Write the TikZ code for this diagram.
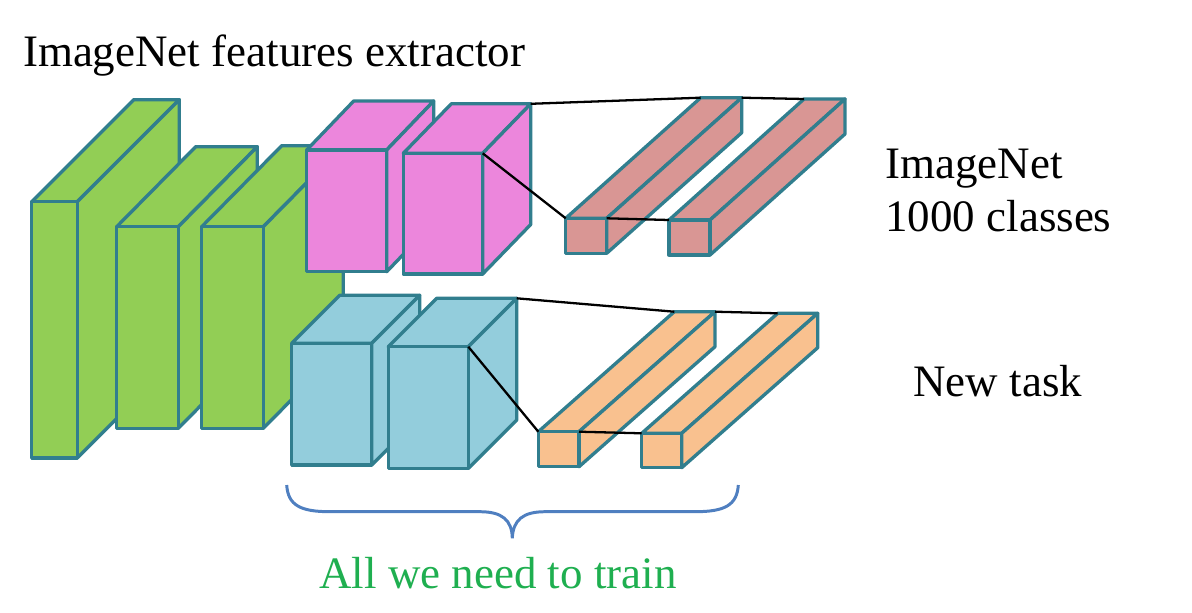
\documentclass[tikz,border=0pt]{standalone}
\usepackage{fontspec}
\setmainfont{Liberation Serif}
\usepackage{tikz}

\definecolor{layergreen}{HTML}{92CE55}
\definecolor{layerpink}{HTML}{EC86DC}
\definecolor{layercyan}{HTML}{93CDDC}
\definecolor{barrose}{HTML}{D99694}
\definecolor{barorange}{HTML}{F9C18F}
\definecolor{edgeteal}{HTML}{317E8E}
\definecolor{bracecol}{HTML}{4F7FC0}
\definecolor{traingreen}{HTML}{1FAF50}

\tikzset{
	face/.style={draw=edgeteal,line width=1.9pt,line join=round},
	link/.style={black,line width=1.3pt},
	lbl/.style={anchor=base west,inner sep=0pt,font=\fontsize{25.6}{30}\selectfont}
}

% name, fill, x, y (front top left), width, height, depth x, depth y
\newcommand{\layer}[8]{
	\coordinate (#1-ftl) at (#3,#4);
	\coordinate (#1-ftr) at (#3+#5,#4);
	\coordinate (#1-fbr) at (#3+#5,#4+#6);
	\coordinate (#1-btl) at (#3+#7,#4+#8);
	\coordinate (#1-btr) at (#3+#5+#7,#4+#8);
	\coordinate (#1-bbr) at (#3+#5+#7,#4+#6+#8);
	\draw [face,fill=#2] (#1-ftl)--(#1-btl)--(#1-btr)--(#1-ftr)--cycle;
	\draw [face,fill=#2] (#1-ftr)--(#1-btr)--(#1-bbr)--(#1-fbr)--cycle;
	\draw [face,fill=#2] (#1-ftl) rectangle (#1-fbr);
}

\begin{document}
\begin{tikzpicture}[x=0.02cm,y=-0.02cm]
	\useasboundingbox (0,0) rectangle (1192,612);
	% shared feature extractor
	\layer{g1}{layergreen}{31.7}{201.7}{45.6}{256.3}{102}{-102}
	\layer{g2}{layergreen}{116.7}{226.7}{61.6}{201.6}{79}{-80}
	\layer{g3}{layergreen}{201.7}{226.7}{61.6}{201.6}{80}{-81}
	% imagenet head
	\layer{p1}{layerpink}{306.7}{150}{80}{121.7}{47}{-49}
	\layer{p2}{layerpink}{403.3}{153.3}{79.4}{120.7}{48}{-49.5}
	% new head
	\layer{c1}{layercyan}{291.7}{343.3}{80}{121.7}{48}{-48}
	\layer{c2}{layercyan}{388.3}{346.7}{80}{121.7}{48.4}{-48.4}
	% fully connected
	\layer{r1}{barrose}{565.7}{218.3}{41}{35}{135}{-120.6}
	\layer{r2}{barrose}{669}{220}{41}{35}{135}{-121}
	\layer{o1}{barorange}{538.3}{431.7}{40.7}{35}{136}{-120}
	\layer{o2}{barorange}{641.7}{433.3}{40}{34.4}{136}{-120}
	\draw [link] (p2-btr)--(r1-btl) (r1-btr)--(r2-btl) (p2-ftr)--(r1-ftl) (r1-ftr)--(r2-ftl);
	\draw [link] (c2-btr)--(o1-btl) (o1-btr)--(o2-btl) (c2-ftr)--(o1-ftl) (o1-ftr)--(o2-ftl);
	% brace
	\draw [bracecol,line width=1.7pt] (286.7,485) .. controls (288,505) and (300,511.7) .. (330,511.7)
		-- (480,511.7) .. controls (502,511.7) and (512,520) .. (512.3,538.3)
		.. controls (513,520) and (523,511.7) .. (545,511.7) -- (695,511.7)
		.. controls (725,511.7) and (737,505) .. (738.3,485);
	% labels
	\node [lbl] (extractor) at (22.7,66.7) {ImageNet features extractor};
	\node [lbl] (imagenet) at (885,178.3) {ImageNet};
	\node [lbl] (classes) at (885,231.7) {1000 classes};
	\node [lbl] (newtask) at (913,396.7) {New task};
	\node [lbl,text=traingreen] (train) at (319,588.3) {All we need to train};
\end{tikzpicture}
\end{document}
